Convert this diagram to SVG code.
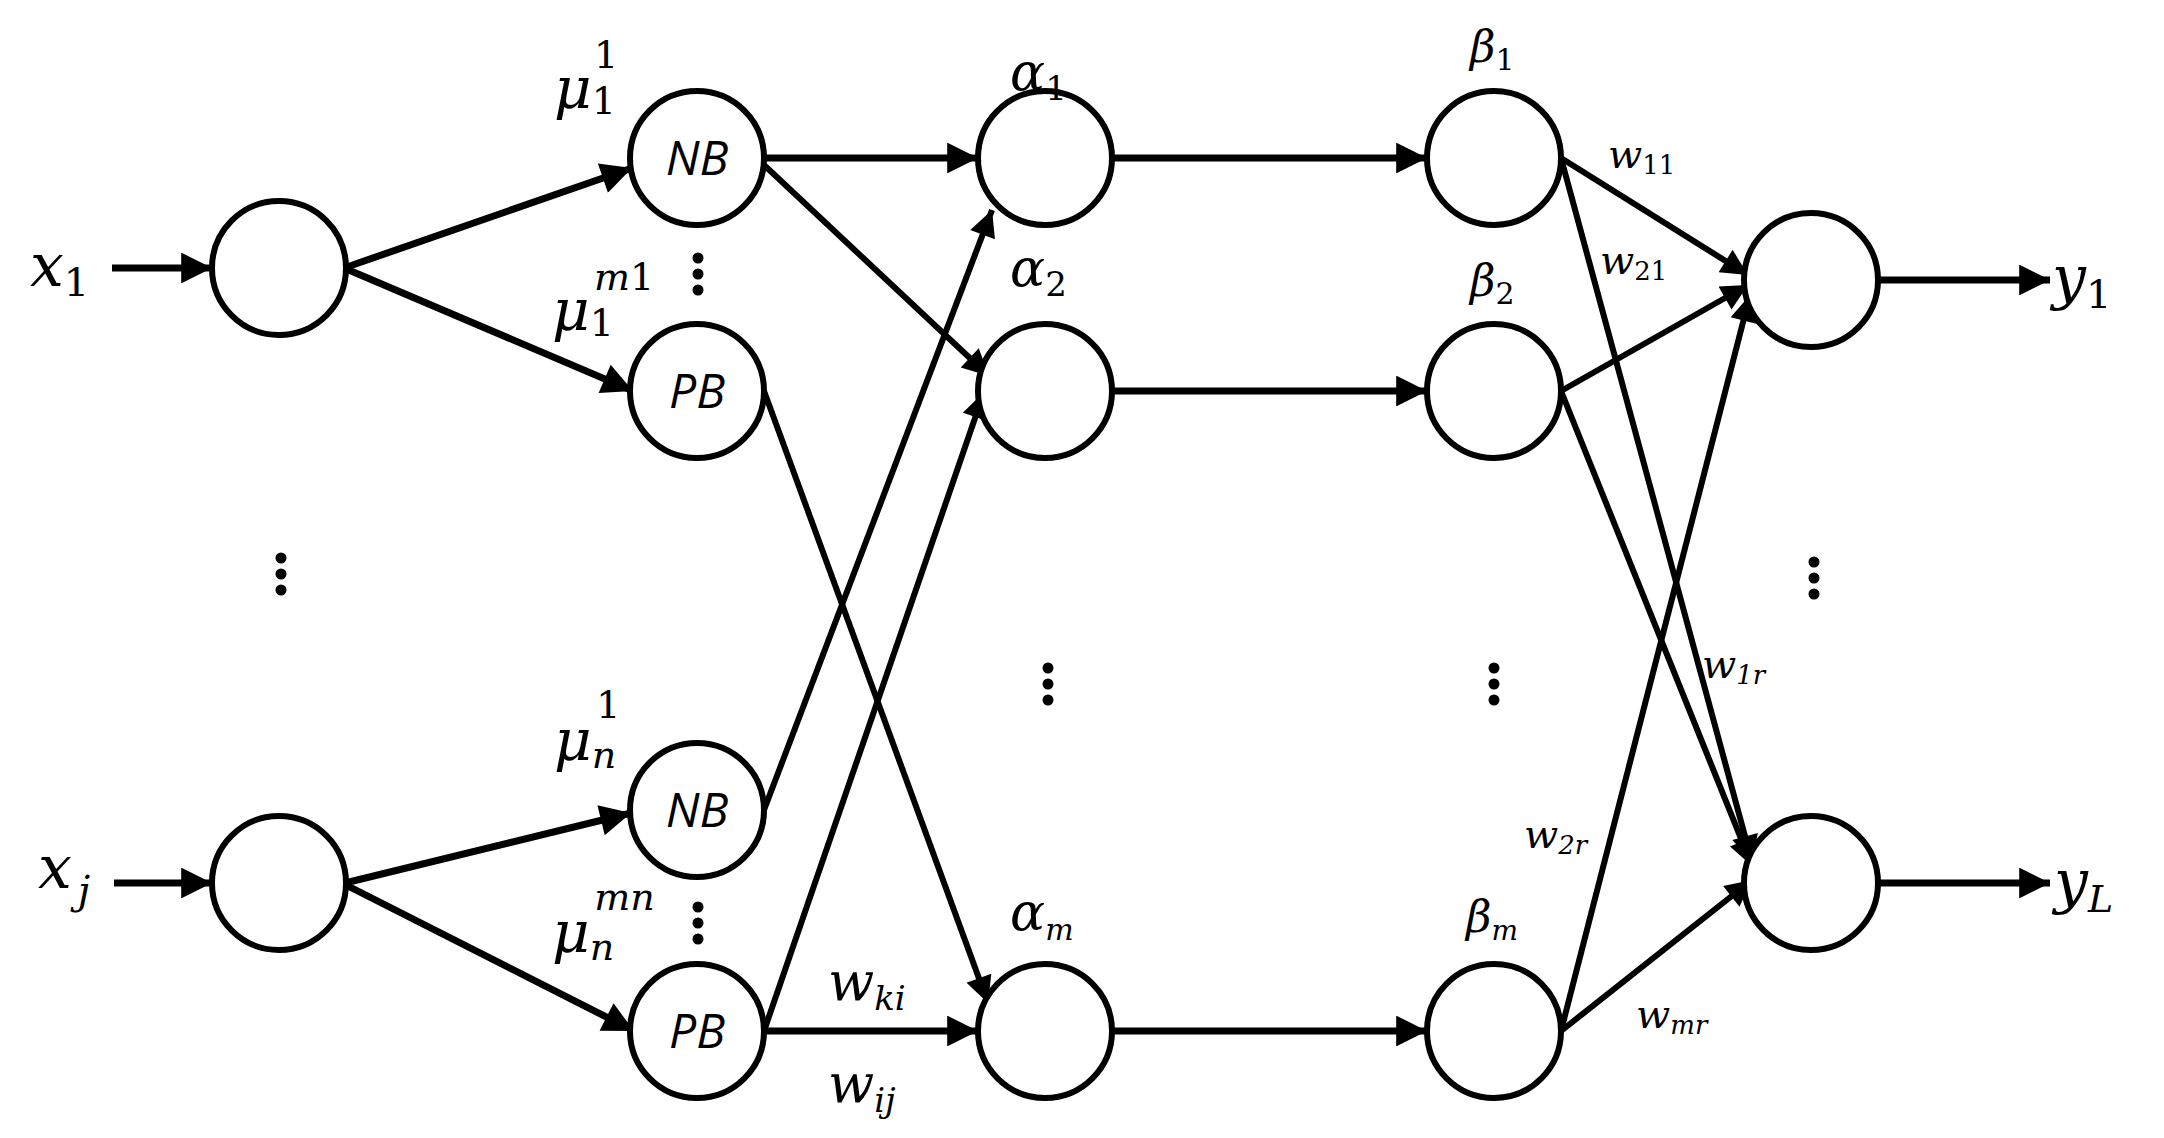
<svg xmlns="http://www.w3.org/2000/svg" width="2164" height="1138" viewBox="0 0 2164 1138">
<style>
.n{fill:#fff;stroke:#000;stroke-width:6}
.e line{stroke:#000;stroke-width:6}
.e .t{stroke-width:7}
.m text{font-family:"DejaVu Serif","Liberation Serif",serif;font-style:italic;fill:#000}
.s{font-family:"Open Sans","Noto Sans",sans-serif;font-style:italic;font-size:48px;text-anchor:middle;fill:#000}
.d{fill:#000}
</style>
<defs>
<marker id="a" viewBox="0 0 10 10" refX="10" refY="5" markerWidth="5" markerHeight="4.4" markerUnits="strokeWidth" orient="auto"><path d="M0,0L10,5L0,10z"/></marker>
</defs>
<g class="e">
<line class="t" x1="112" y1="268" x2="212" y2="268" marker-end="url(#a)"/>
<line class="t" x1="114" y1="883" x2="212" y2="883" marker-end="url(#a)"/>
<line class="t" x1="344" y1="268" x2="632" y2="168" marker-end="url(#a)"/>
<line class="t" x1="344" y1="268" x2="633" y2="391" marker-end="url(#a)"/>
<line class="t" x1="345" y1="883" x2="631" y2="813" marker-end="url(#a)"/>
<line class="t" x1="342" y1="883" x2="634" y2="1031" marker-end="url(#a)"/>
<line class="t" x1="764" y1="158" x2="978" y2="158" marker-end="url(#a)"/>
<line x1="764" y1="165" x2="989" y2="376" marker-end="url(#a)"/>
<line x1="764" y1="391" x2="988" y2="1003" marker-end="url(#a)"/>
<line x1="764" y1="810" x2="992" y2="210" marker-end="url(#a)"/>
<line x1="764" y1="1031" x2="984" y2="392" marker-end="url(#a)"/>
<line class="t" x1="764" y1="1031" x2="978" y2="1031" marker-end="url(#a)"/>
<line class="t" x1="1112" y1="158" x2="1427" y2="158" marker-end="url(#a)"/>
<line class="t" x1="1112" y1="391" x2="1427" y2="391" marker-end="url(#a)"/>
<line class="t" x1="1112" y1="1031" x2="1427" y2="1031" marker-end="url(#a)"/>
<line x1="1561" y1="158" x2="1748" y2="275" marker-end="url(#a)"/>
<line x1="1561" y1="158" x2="1752" y2="862" marker-end="url(#a)"/>
<line x1="1561" y1="391" x2="1748" y2="285" marker-end="url(#a)"/>
<line x1="1561" y1="391" x2="1752" y2="866" marker-end="url(#a)"/>
<line x1="1561" y1="1031" x2="1750" y2="295" marker-end="url(#a)"/>
<line x1="1561" y1="1031" x2="1752" y2="880" marker-end="url(#a)"/>
<line class="t" x1="1878" y1="280" x2="2050" y2="280" marker-end="url(#a)"/>
<line class="t" x1="1878" y1="883" x2="2050" y2="883" marker-end="url(#a)"/>
</g>
<g id="in1"><circle class="n" cx="279" cy="268" r="67"/></g>
<g id="inj"><circle class="n" cx="279" cy="883" r="67"/></g>
<g id="nb1"><circle class="n" cx="697" cy="158" r="67"/><text class="s" x="697" y="175">NB</text></g>
<g id="pb1"><circle class="n" cx="697" cy="391" r="67"/><text class="s" x="697" y="408">PB</text></g>
<g id="nbn"><circle class="n" cx="697" cy="810" r="67"/><text class="s" x="697" y="827">NB</text></g>
<g id="pbn"><circle class="n" cx="697" cy="1031" r="67"/><text class="s" x="697" y="1048">PB</text></g>
<g id="a1"><circle class="n" cx="1045" cy="158" r="67"/></g>
<g id="a2"><circle class="n" cx="1045" cy="391" r="67"/></g>
<g id="am"><circle class="n" cx="1045" cy="1031" r="67"/></g>
<g id="b1"><circle class="n" cx="1494" cy="158" r="67"/></g>
<g id="b2"><circle class="n" cx="1494" cy="391" r="67"/></g>
<g id="bm"><circle class="n" cx="1494" cy="1031" r="67"/></g>
<g id="o1"><circle class="n" cx="1811" cy="280" r="67"/></g>
<g id="oL"><circle class="n" cx="1811" cy="883" r="67"/></g>
<g class="d">
<circle cx="698" cy="258" r="5.5"/><circle cx="698" cy="274" r="5.5"/><circle cx="698" cy="290" r="5.5"/>
<circle cx="698" cy="907" r="5.5"/><circle cx="698" cy="923" r="5.5"/><circle cx="698" cy="939" r="5.5"/>
<circle cx="281" cy="558" r="5.5"/><circle cx="281" cy="574" r="5.5"/><circle cx="281" cy="590" r="5.5"/>
<circle cx="1048" cy="668" r="5.5"/><circle cx="1048" cy="684" r="5.5"/><circle cx="1048" cy="700" r="5.5"/>
<circle cx="1494" cy="668" r="5.5"/><circle cx="1494" cy="684" r="5.5"/><circle cx="1494" cy="700" r="5.5"/>
<circle cx="1814" cy="562" r="5.5"/><circle cx="1814" cy="578" r="5.5"/><circle cx="1814" cy="594" r="5.5"/>
</g>
<g class="m">
<text x="30" y="286" font-size="60">x<tspan font-size="40" font-style="normal" dy="10">1</tspan></text>
<text x="38" y="888" font-size="60">x<tspan font-size="40" dx="6" dy="16">j</tspan></text>
<text x="2052" y="298" font-size="60">y<tspan font-size="40" font-style="normal" dy="10">1</tspan></text>
<text x="2054" y="902" font-size="60">y<tspan font-size="38" dy="10">L</tspan></text>
<text x="554" y="108" font-size="58">μ<tspan font-size="38" font-style="normal" dy="6">1</tspan><tspan font-size="38" font-style="normal" dx="-22" dy="-46">1</tspan></text>
<text x="552" y="330" font-size="58">μ<tspan font-size="38" font-style="normal" dy="6">1</tspan><tspan font-size="38" dx="-20" dy="-46">m</tspan><tspan font-size="38" font-style="normal">1</tspan></text>
<text x="554" y="760" font-size="58">μ<tspan font-size="38" dy="8">n</tspan><tspan font-size="38" font-style="normal" dx="-20" dy="-50">1</tspan></text>
<text x="552" y="952" font-size="58">μ<tspan font-size="38" dy="8">n</tspan><tspan font-size="38" dx="-20" dy="-50">mn</tspan></text>
<text x="1010" y="90" font-size="52">α<tspan font-size="34" font-style="normal" dy="10">1</tspan></text>
<text x="1010" y="286" font-size="52">α<tspan font-size="34" font-style="normal" dy="10">2</tspan></text>
<text x="1010" y="930" font-size="52">α<tspan font-size="30" dy="10">m</tspan></text>
<text x="1470" y="62" font-size="44">β<tspan font-size="30" font-style="normal" dy="8">1</tspan></text>
<text x="1470" y="296" font-size="44">β<tspan font-size="30" font-style="normal" dy="8">2</tspan></text>
<text x="1466" y="932" font-size="44">β<tspan font-size="28" dy="8">m</tspan></text>
<text x="1608" y="168" font-size="40">w<tspan font-size="26" font-style="normal" dy="6">11</tspan></text>
<text x="1600" y="274" font-size="40">w<tspan font-size="26" font-style="normal" dy="6">21</tspan></text>
<text x="1702" y="678" font-size="40">w<tspan font-size="26" dy="6">1r</tspan></text>
<text x="1524" y="848" font-size="40">w<tspan font-size="26" dy="6">2r</tspan></text>
<text x="1636" y="1028" font-size="40">w<tspan font-size="26" dy="6">mr</tspan></text>
<text x="828" y="1000" font-size="54">w<tspan font-size="34" dy="10">ki</tspan></text>
<text x="828" y="1102" font-size="54">w<tspan font-size="34" dy="10">ij</tspan></text>
</g>
</svg>
